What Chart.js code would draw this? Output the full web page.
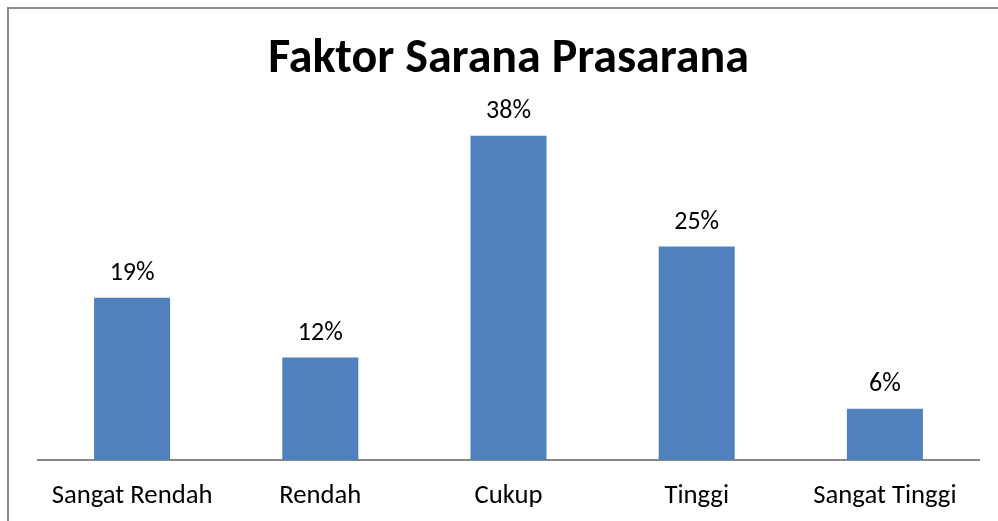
<!DOCTYPE html>
<html>
<head>
<meta charset="utf-8">
<script src="https://cdn.jsdelivr.net/npm/chart.js@4"></script>
<style>
  html, body { margin: 0; padding: 0; background: #fff; overflow: hidden; }
  #wrap { position: relative; width: 998px; height: 521px; overflow: hidden; }
  #frame { position: absolute; left: 7px; top: 7px; width: 1100px; height: 600px; border: 2px solid #8a8a8a; box-sizing: border-box; }
  canvas { position: absolute; left: 0; top: 0; }
</style>
</head>
<body>
<div id="wrap">
  <div id="frame"></div>
  <canvas id="chart" width="998" height="540"></canvas>
</div>
<script>
// Faktor Sarana Prasarana (Bar Chart)
const categories = ["Sangat Rendah", "Rendah", "Cukup", "Tinggi", "Sangat Tinggi"];
const percentages = [19, 12, 38, 25, 6];

const fontFamily = "Carlito, Calibri, Lato, sans-serif";

// draws the % label above each bar
const barLabels = {
  id: 'barLabels',
  afterDatasetsDraw(chart) {
    const ctx = chart.ctx;
    ctx.save();
    ctx.font = "26px " + fontFamily;
    ctx.fillStyle = "#000";
    ctx.textAlign = "center";
    ctx.textBaseline = "alphabetic";
    chart.getDatasetMeta(0).data.forEach((bar, i) => {
      ctx.fillText(percentages[i] + "%", bar.x, bar.y - 18);
    });
    ctx.restore();
  }
};

new Chart(document.getElementById("chart"), {
  type: 'bar',
  data: {
    labels: categories,
    datasets: [{
      data: percentages,
      backgroundColor: "#4F81BD",
      categoryPercentage: 1,
      barPercentage: 0.404
    }]
  },
  options: {
    responsive: false,
    animation: false,
    layout: { padding: { left: 38, right: 19, top: 0, bottom: 8 } },
    plugins: {
      legend: { display: false },
      tooltip: { enabled: false },
      title: {
        display: true,
        text: "Faktor Sarana Prasarana",
        color: "#000",
        font: { family: fontFamily, size: 48, weight: 'bold', lineHeight: 1.2 },
        padding: { top: 31, bottom: 30 }
      }
    },
    scales: {
      x: {
        grid: { display: false, drawTicks: false },
        border: { display: true, color: "#878787", width: 2 },
        ticks: { color: "#000", font: { family: fontFamily, size: 26.7 }, padding: 20 }
      },
      y: {
        display: false,
        min: 0,
        max: 40
      }
    }
  },
  plugins: [barLabels]
});
</script>
</body>
</html>
